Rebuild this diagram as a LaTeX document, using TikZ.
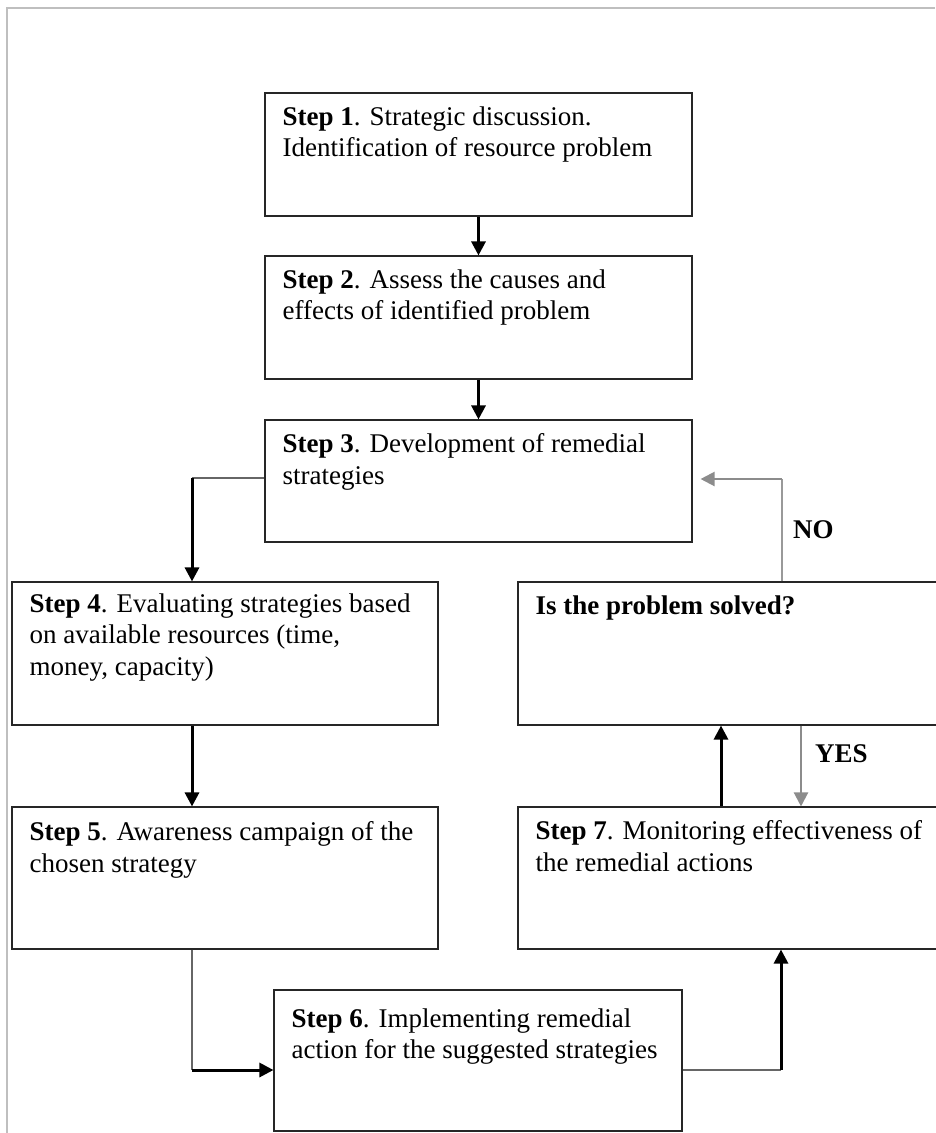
\documentclass[tikz,border=0pt]{standalone}
\usepackage{fontspec}
\setmainfont{Liberation Serif}
\usetikzlibrary{arrows.meta,positioning,calc}

\begin{document}
\begin{tikzpicture}[x=1pt, y=-1pt, >={Triangle[width=14pt,length=14pt]}]
    \tikzset{
        stepbox/.style={draw=black!85, line width=1.1pt, rectangle, inner sep=0pt},
        steptext/.style={anchor=north west, inner sep=0pt, align=left, font=\fontsize{27}{31.5}\selectfont},
        answer/.style={anchor=west, inner sep=0pt, font=\fontsize{27}{31.5}\selectfont\bfseries},
        flow/.style={->, line width=3pt, black},
        feed/.style={line width=1.2pt, black!60},
        back/.style={->, line width=2.2pt, black!45}
    }
    \useasboundingbox (0,0) rectangle (935,1133);
    \draw[black!25, line width=1.5pt] (7,1133) -- (7,8) -- (935,8);

    % left column of steps
    \node[stepbox, minimum width=427pt, minimum height=123pt] (s1) at (478.5,154.5) {};
    \node[stepbox, minimum width=427pt, minimum height=123pt] (s2) at (478.5,317.5) {};
    \node[stepbox, minimum width=427pt, minimum height=122pt] (s3) at (478.5,481) {};
    \node[stepbox, minimum width=426pt, minimum height=143pt] (s4) at (225,653.5) {};
    \node[stepbox, minimum width=426pt, minimum height=142pt] (s5) at (225,878) {};
    \node[stepbox, minimum width=408pt, minimum height=141pt] (s6) at (478,1060.5) {};
    % right column
    \node[stepbox, minimum width=427pt, minimum height=142pt] (s7) at (731.5,878) {};
    \node[stepbox, minimum width=427pt, minimum height=143pt] (q) at (731.5,653.5) {};

    \node[steptext] (t1) at ([shift={(18,14)}]s1.north west) {\textbf{Step 1}. Strategic discussion.\\Identification of resource problem};
    \node[steptext] (t2) at ([shift={(18,14)}]s2.north west) {\textbf{Step 2}. Assess the causes and\\effects of identified problem};
    \node[steptext] (t3) at ([shift={(18,14)}]s3.north west) {\textbf{Step 3}. Development of remedial\\strategies};
    \node[steptext] (t4) at ([shift={(18,12)}]s4.north west) {\textbf{Step 4}. Evaluating strategies based\\on available resources (time,\\money, capacity)};
    \node[steptext] (t5) at ([shift={(18,15)}]s5.north west) {\textbf{Step 5}. Awareness campaign of the\\chosen strategy};
    \node[steptext] (t6) at ([shift={(18,19)}]s6.north west) {\textbf{Step 6}. Implementing remedial\\action for the suggested strategies};
    \node[steptext] (t7) at ([shift={(18,14)}]s7.north west) {\textbf{Step 7}. Monitoring effectiveness of\\the remedial actions};
    \node[steptext, font=\fontsize{27}{31.5}\selectfont\bfseries] (tq) at ([shift={(18,14)}]q.north west) {Is the problem solved?};

    \node[answer] (no) at (793,530) {NO};
    \node[answer] (yes) at (815,754) {YES};

    % bend points
    \coordinate (c3) at (192,478);
    \coordinate (c6) at (192,1070);
    \coordinate (c7) at (781,1070);
    \coordinate (cq) at (782,479);

    % connectors
    \draw[flow] (s1) -- (s2);
    \draw[flow] (s2) -- (s3);
    \draw[feed] (s3.west |- c3) -- (c3);
    \draw[flow] (c3) -- (s4.north -| c3);
    \draw[flow] (s4.south -| c3) -- (s5.north -| c3);
    \draw[feed] (s5.south -| c6) -- (c6);
    \draw[flow] (c6) -- (s6.west |- c6);
    \draw[feed] (s6.east |- c7) -- (c7);
    \draw[flow] (c7) -- (s7.south -| c7);
    \draw[flow] ([xshift=-10.5pt]s7.north) -- ([xshift=-10.5pt]q.south);
    \draw[back] ([xshift=69.5pt]q.south) -- ([xshift=69.5pt]s7.north);
    \draw[feed, black!40] (q.north -| cq) -- (cq);
    \draw[back] (cq) -- ([xshift=8pt]s3.east |- cq);
\end{tikzpicture}
\end{document}
